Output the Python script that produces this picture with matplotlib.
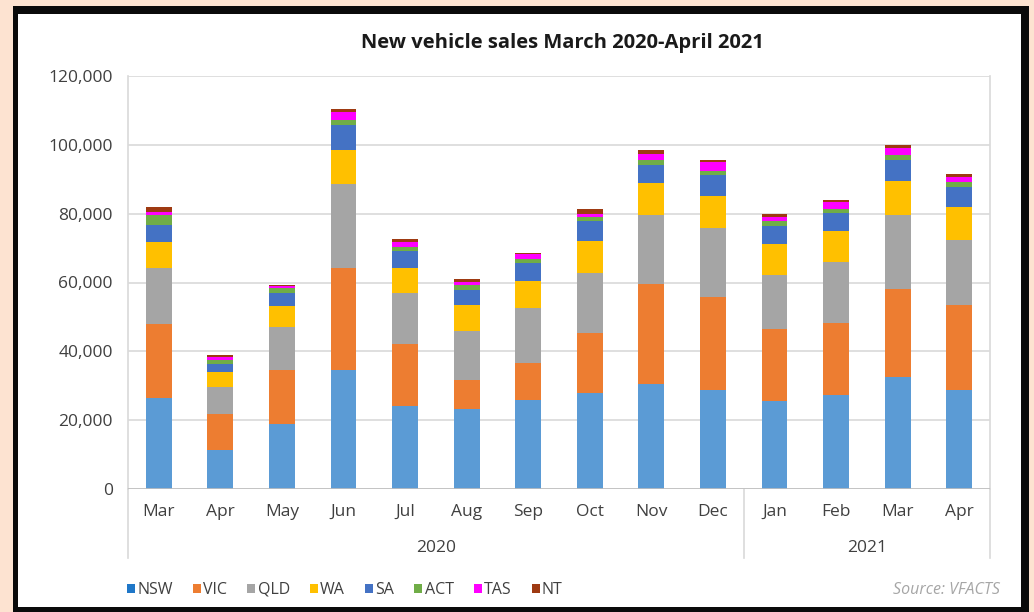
import numpy as np
import matplotlib.pyplot as plt
from matplotlib.patches import Rectangle, Patch

# Data (thousands of vehicles)
months = ['Mar', 'Apr', 'May', 'Jun', 'Jul', 'Aug', 'Sep', 'Oct', 'Nov', 'Dec',
          'Jan', 'Feb', 'Mar', 'Apr']
years = ['2020', '2021']
year_counts = [10, 4]

states = ['NSW', 'VIC', 'QLD', 'WA', 'SA', 'ACT', 'TAS', 'NT']
nsw = [26.5, 11.4, 18.9, 34.6, 24.0, 23.1, 25.8, 27.8, 30.4, 28.9, 25.6, 27.3, 32.6, 28.9]
vic = [21.5, 10.4, 15.7, 29.7, 18.0, 8.6, 10.9, 17.6, 29.3, 26.9, 20.8, 20.8, 25.4, 24.5]
qld = [16.3, 7.8, 12.6, 24.4, 14.9, 14.1, 15.8, 17.4, 19.8, 20.1, 15.9, 17.9, 21.5, 18.9]
wa = [7.4, 4.3, 5.9, 9.7, 7.4, 7.7, 8.0, 9.2, 9.4, 9.2, 9.0, 9.0, 9.9, 9.7]
sa = [5.1, 2.4, 3.9, 7.3, 4.8, 4.4, 5.2, 5.8, 5.2, 6.0, 5.1, 5.2, 6.1, 5.8]
act = [2.9, 1.2, 1.3, 1.4, 1.2, 1.4, 1.0, 1.3, 1.4, 1.3, 1.4, 1.3, 1.5, 1.4]
tas = [0.8, 0.8, 0.6, 2.4, 1.4, 0.8, 1.5, 0.7, 1.9, 2.6, 1.3, 1.9, 2.1, 1.5]
nt = [1.4, 0.5, 0.5, 1.0, 1.0, 0.9, 0.5, 1.7, 1.0, 0.5, 0.7, 0.7, 0.8, 0.9]
series = [nsw, vic, qld, wa, sa, act, tas, nt]
colors = ['#5B9BD5', '#ED7D31', '#A5A5A5', '#FFC000', '#4472C4', '#70AD47',
          '#FF00FF', '#9E3A12']

plt.rcParams['font.family'] = ['Open Sans', 'DejaVu Sans']

W, H = 1034, 612
fig = plt.figure(figsize=(W / 100, H / 100), dpi=100)
fig.patch.set_facecolor('#FDE3D1')

# black frame and white card
fig.patches.append(Rectangle((13 / W, 0), (1029 - 13) / W, (H - 6) / H,
                             transform=fig.transFigure, facecolor='#0A0A0A',
                             edgecolor='none', zorder=-2))
fig.patches.append(Rectangle((18 / W, (H - 607) / H), (1021 - 18) / W, (607 - 14) / H,
                             transform=fig.transFigure, facecolor='white',
                             edgecolor='none', zorder=-1))

ax = fig.add_axes([128 / W, (H - 489) / H, (990 - 128) / W, (489 - 76) / H])
ax.set_zorder(1)
ax.set_facecolor('none')

x = np.arange(len(months))
bottom = np.zeros(len(months))
for name, vals, c in zip(states, series, colors):
    v = np.array(vals) * 1000
    ax.bar(x, v, 0.42, bottom=bottom, color=c, label=name, zorder=3)
    bottom += v

ax.set_xlim(-0.5, len(months) - 0.5)
ax.set_ylim(0, 120000)
ax.set_yticks(np.arange(0, 120001, 20000))
ax.set_yticklabels([f'{int(t):,}' for t in np.arange(0, 120001, 20000)],
                   fontsize=12.5, color='#404040')
ax.tick_params(axis='y', length=0, pad=11)
ax.grid(axis='y', color='#D9D9D9', linewidth=1.2, zorder=0)
for s in ['top', 'bottom']:
    ax.spines[s].set_visible(False)
for s in ['left', 'right']:
    ax.spines[s].set_color('#D9D9D9')
    ax.spines[s].set_linewidth(1.2)

# multi-level category axis
ax.set_xticks([])
ax.axhline(0, color='#BFBFBF', linewidth=1.2, zorder=4)
tr = ax.get_xaxis_transform()
depth = -(558 - 489) / (489 - 76)
for i, m in enumerate(months):
    ax.text(i, -(512 - 489) / (489 - 76), m, transform=tr, ha='center', va='center',
            fontsize=12.5, color='#404040')
edges = np.concatenate([[0], np.cumsum(year_counts)]) - 0.5
for e in edges:
    ax.plot([e, e], [0, depth], transform=tr, color='#D9D9D9', linewidth=1.2,
            clip_on=False)
for y, a, b in zip(years, edges[:-1], edges[1:]):
    ax.text((a + b) / 2, -(548 - 489) / (489 - 76), y, transform=tr, ha='center',
            va='center', fontsize=12.5, color='#404040')

fig.text(562 / W, (H - 43) / H, 'New vehicle sales March 2020-April 2021',
         ha='center', va='center', fontsize=14.5, fontweight='bold', color='#1a1a1a')

handles = [Patch(facecolor=c, edgecolor='none') for c in colors]
handles[0] = Patch(facecolor='#1F77C8', edgecolor='none')
fig.legend(handles, states, loc='center left', bbox_to_anchor=(127 / W, (H - 590) / H),
           ncol=8, frameon=False, fontsize=11.5, handlelength=0.5, handleheight=0.5,
           handletextpad=0.15, columnspacing=1.25, labelcolor='#404040',
           borderaxespad=0, borderpad=0)

fig.text(1000 / W, (H - 590) / H, 'Source: VFACTS', ha='right', va='center',
         fontsize=11.5, style='italic', color='#A6A6A6')

fig.savefig('out.png', dpi=100, facecolor=fig.get_facecolor())
